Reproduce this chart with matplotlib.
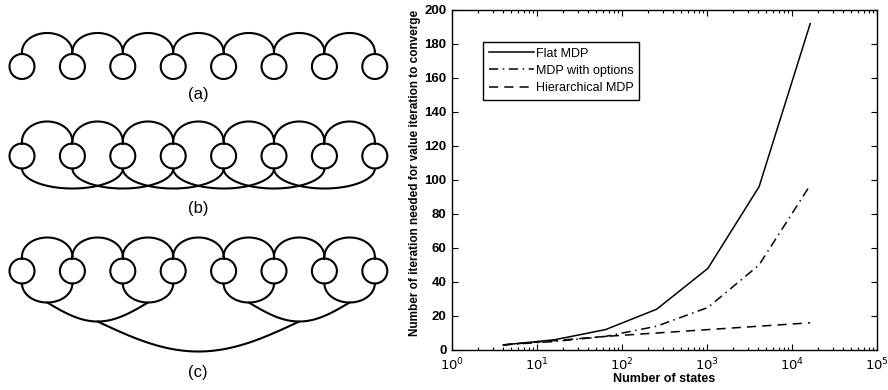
import numpy as np
import matplotlib.pyplot as plt
from matplotlib.patches import Circle

plt.rcParams['font.family'] = ['Liberation Sans', 'DejaVu Sans']

# convergence data: number of states vs. iterations of value iteration
n_states = [4, 16, 64, 256, 1024, 4096, 16384]
flat_mdp = [3, 6, 12, 24, 48, 96, 192]
mdp_options = [3, 5, 8, 14, 25, 50, 97]
hier_mdp = [3, 5.5, 8, 10, 12, 14, 16]

y_ticks = [0, 20, 40, 60, 80, 100, 120, 140, 160, 180, 200]
x_ticks = [1, 10, 100, 1000, 10000, 100000]
x_labels = ['$10^0$', '$10^1$', '$10^2$', '$10^3$', '$10^4$', '$10^5$']

# schematic layout (pixel units of the left panel)
n_nodes = 8
node_x0, node_dx, node_r = 22, 50.4, 12.5
row_y = {'a': 66.5, 'b': 156, 'c': 271}
label_y = {'a': 95, 'b': 209, 'c': 372}
label_x = 198

fig = plt.figure(figsize=(8.88, 3.9), dpi=100)

# ---- left: state diagrams ----
dax = fig.add_axes([0, 0, 400 / 888, 1])
dax.set_xlim(0, 400)
dax.set_ylim(390, 0)
dax.axis('off')

lw = 1.5
xs = node_x0 + node_dx * np.arange(n_nodes)


def arc(x0, x1, y, h, up=True, shape='ellipse'):
    t = np.linspace(0, np.pi, 80)
    xm, a = (x0 + x1) / 2, (x1 - x0) / 2
    if shape == 'ellipse':
        x = xm - a * np.cos(t)
    else:
        x = x0 + (x1 - x0) * t / np.pi
    dy = h * np.sin(t)
    dax.plot(x, y - dy if up else y + dy, color='black', lw=lw,
             solid_capstyle='round')


for key in ['a', 'b', 'c']:
    cy = row_y[key]
    for x in xs:
        dax.add_patch(Circle((x, cy), node_r, fill=False, lw=lw, ec='black'))
    top = cy - node_r
    for i in range(n_nodes - 1):
        dax.plot([xs[i], xs[i]], [top, top - 2], color='black', lw=lw)
        arc(xs[i], xs[i + 1], top - 2, 19 if key != 'b' else 20)
    dax.plot([xs[-1], xs[-1]], [top, top - 2], color='black', lw=lw)
    dax.text(label_x, label_y[key], '(%s)' % key, ha='center', va='center',
             fontsize=12)

# (b): skip-one links underneath
bot = row_y['b'] + node_r
for i in range(n_nodes - 2):
    arc(xs[i], xs[i + 2], bot, 20, up=False)

# (c): hierarchical tree underneath
bot = row_y['c'] + node_r
lvl1 = []
for i in range(0, n_nodes, 2):
    arc(xs[i], xs[i + 1], bot, 19, up=False)
    lvl1.append(((xs[i] + xs[i + 1]) / 2, bot + 19))
lvl2 = []
for j in range(0, len(lvl1), 2):
    (xa, ya), (xb, _) = lvl1[j], lvl1[j + 1]
    arc(xa, xb, ya, 19, up=False, shape='sine')
    lvl2.append(((xa + xb) / 2, ya + 19))
(xa, ya), (xb, _) = lvl2
arc(xa, xb, ya, 30, up=False, shape='sine')

# ---- right: convergence plot ----
ax = fig.add_axes([452 / 888, 40 / 390, 425 / 888, 340 / 390])
ax.plot(n_states, flat_mdp, '-', color='black', lw=1.1, label='Flat MDP')
ax.plot(n_states, mdp_options, '-.', color='black', lw=1.1,
        dashes=(6, 3, 1, 3), label='MDP with options')
ax.plot(n_states, hier_mdp, '--', color='black', lw=1.1,
        dashes=(6, 4), label='Hierarchical MDP')

ax.set_xscale('log')
ax.set_xlim(1, 1e5)
ax.set_ylim(0, 200)
ax.set_yticks(y_ticks)
ax.set_xticks(x_ticks)
ax.set_xticklabels(x_labels)
ax.tick_params(which='both', direction='in', top=True, right=True,
               labelsize=9.5, width=0.8)
ax.tick_params(which='major', length=4)
ax.tick_params(which='minor', length=2.5)
ax.tick_params(axis='x', pad=4.5)
ax.tick_params(axis='y', pad=4)
for s in ax.spines.values():
    s.set_linewidth(1.0)

ax.set_xlabel('Number of states', fontsize=9, fontweight='bold', labelpad=0)
ax.set_ylabel('Number of iteration needed for value iteration to converge',
              fontsize=8.5, fontweight='bold')
ax.yaxis.set_label_coords(-0.072, 0.52)
for lab in ax.get_xticklabels() + ax.get_yticklabels():
    lab.set_fontweight('bold')

leg = ax.legend(loc='upper left', bbox_to_anchor=(0.073, 0.906),
                borderaxespad=0, fancybox=False, edgecolor='black',
                framealpha=1, fontsize=9, handlelength=3.6,
                handletextpad=0.15, labelspacing=0.42, borderpad=0.45)
leg.get_frame().set_linewidth(1.0)

fig.savefig('out.png', dpi=100)
